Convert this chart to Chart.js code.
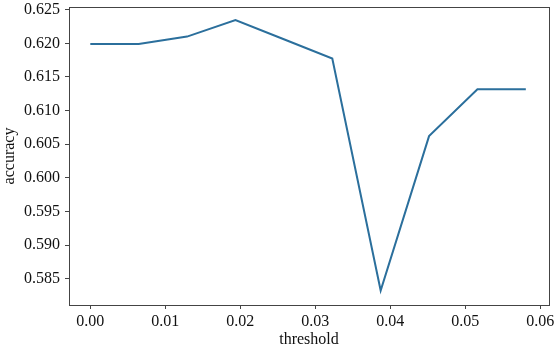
<!DOCTYPE html>
<html lang="en">
<head>
    <meta charset="UTF-8">
    <title>accuracy vs threshold</title>
    <script src="https://cdn.jsdelivr.net/npm/chart.js"></script>
    <style>
        html, body { margin: 0; padding: 0; background: #fff; }
        #wrap { width: 557px; height: 347px; }
    </style>
</head>
<body>
    <div id="wrap"><canvas id="lineChart"></canvas></div>
    <script>
        // Données
        const thresholds = [0, 0.00645, 0.0129, 0.01935, 0.0258, 0.03226, 0.03871, 0.04516, 0.05161, 0.05806];
        const accuracy = [0.6199, 0.6199, 0.6210, 0.62347, 0.6206, 0.61775, 0.58326, 0.6062, 0.61318, 0.61318];
        const xTicks = [0.00, 0.01, 0.02, 0.03, 0.04, 0.05, 0.06];
        const yTicks = [0.585, 0.590, 0.595, 0.600, 0.605, 0.610, 0.615, 0.620, 0.625];

        const points = thresholds.map((t, i) => ({ x: t, y: accuracy[i] }));
        const font = { family: '"Liberation Serif", "Times New Roman", serif', size: 16 };

        // Cadre autour de la zone de tracé
        const frame = {
            id: 'frame',
            afterDraw(chart) {
                const a = chart.chartArea;
                const ctx = chart.ctx;
                ctx.save();
                ctx.strokeStyle = '#444';
                ctx.lineWidth = 1;
                ctx.strokeRect(Math.round(a.left) + 0.5, Math.round(a.top) + 0.5,
                    Math.round(a.right - a.left), Math.round(a.bottom - a.top));
                ctx.restore();
            }
        };

        new Chart(document.getElementById('lineChart'), {
            type: 'line',
            data: {
                datasets: [{
                    data: points,
                    borderColor: '#2b6f9c',
                    borderWidth: 2,
                    pointRadius: 0,
                    tension: 0,
                    fill: false
                }]
            },
            options: {
                responsive: true,
                maintainAspectRatio: false,
                animation: false,
                layout: { padding: { top: 7, right: 8, left: 0, bottom: 0 } },
                plugins: { legend: { display: false }, tooltip: { enabled: false } },
                scales: {
                    x: {
                        type: 'linear',
                        min: -0.00284,
                        max: 0.06115,
                        afterBuildTicks: s => { s.ticks = xTicks.map(v => ({ value: v })); },
                        afterFit: s => { s.height = 42; s.paddingLeft = 0; s.paddingRight = 0; },
                        ticks: {
                            color: '#111', font: font, padding: 3, maxRotation: 0,
                            callback: v => v.toFixed(2)
                        },
                        grid: { drawOnChartArea: false, drawTicks: true, tickLength: 4, color: '#444' },
                        border: { display: false },
                        title: { display: true, text: 'threshold', color: '#111', font: font, padding: { top: 0, bottom: -2 } }
                    },
                    y: {
                        min: 0.5811,
                        max: 0.6254,
                        afterBuildTicks: s => { s.ticks = yTicks.map(v => ({ value: v })); },
                        afterFit: s => { s.width = 69; s.paddingTop = 0; s.paddingBottom = 0; },
                        ticks: {
                            color: '#111', font: font, padding: 5,
                            callback: v => v.toFixed(3)
                        },
                        grid: { drawOnChartArea: false, drawTicks: true, tickLength: 4, color: '#444' },
                        border: { display: false },
                        title: { display: true, text: 'accuracy', color: '#111', font: font, padding: { top: 0, bottom: 1 } }
                    }
                }
            },
            plugins: [frame]
        });
    </script>
</body>
</html>
